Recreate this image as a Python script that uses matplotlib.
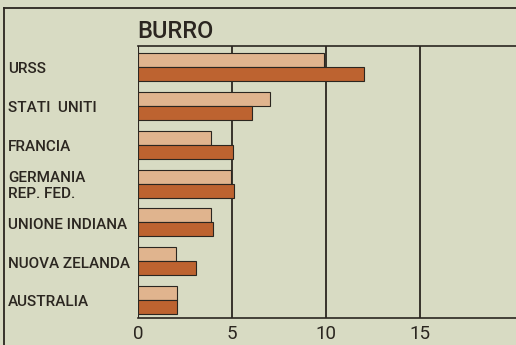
import matplotlib.pyplot as plt
from matplotlib.lines import Line2D
from matplotlib.transforms import blended_transform_factory
import numpy as np

countries = ["URSS", "STATI  UNITI", "FRANCIA", "GERMANIA\nREP. FED.",
             "UNIONE INDIANA", "NUOVA ZELANDA", "AUSTRALIA"]
light_vals = [9.9, 7.0, 3.9, 4.95, 3.9, 2.0, 2.05]
dark_vals = [12.0, 6.05, 5.05, 5.1, 4.0, 3.1, 2.05]
ticks = [0, 5, 10, 15]

BG = "#d8dbc3"
LIGHT = "#e0b48e"
DARK = "#bd6330"
INK = "#2b2620"
FONT = ["Roboto", "DejaVu Sans"]

fig = plt.figure(figsize=(5.16, 3.45), dpi=100, facecolor=BG)
W, H = 516, 345
ax = fig.add_axes([138 / W, 1 - 318 / H, 1 - 138 / W, (318 - 46) / H])
ax.set_facecolor(BG)

y = np.arange(len(countries))
h = 0.36
ax.barh(y - h / 2 + 0.04, light_vals, height=h, color=LIGHT,
        edgecolor=INK, linewidth=0.8, zorder=3)
ax.barh(y + h / 2 + 0.04, dark_vals, height=h, color=DARK,
        edgecolor=INK, linewidth=0.8, zorder=3)

ax.set_xlim(0, (W - 138) / 18.8)
ax.set_ylim(len(countries) - 0.5, -0.5)
for t in ticks[1:]:
    ax.axvline(t, color=INK, lw=1.3, zorder=1)

ax.set_xticks(ticks)
ax.set_xticklabels([str(t) for t in ticks], fontsize=13.5, color=INK, family=FONT)
ax.tick_params(axis="x", length=0, pad=5)
ax.set_yticks([])
for side in ["right", "left"]:
    ax.spines[side].set_visible(False)
for side in ["top", "bottom"]:
    ax.spines[side].set_color(INK)
    ax.spines[side].set_linewidth(1.2)
ax.axvline(0, color=INK, lw=0.8, zorder=1)

# country names sit in the left margin, aligned with each group
tr = blended_transform_factory(fig.transFigure, ax.transData)
for i, name in enumerate(countries):
    ax.text(8 / W, i + 0.1, name, transform=tr, ha="left", va="center",
            fontsize=11, color=INK, linespacing=1.15, family=FONT,
            fontweight="medium")

fig.text(137 / W, 1 - 31 / H, "BURRO", ha="left", va="center",
         fontsize=17, color=INK, fontweight="medium", family=FONT)

# outer frame
fig.add_artist(Line2D([4 / W, 1], [1 - 8 / H, 1 - 8 / H],
                      transform=fig.transFigure, color=INK, lw=1.3))
fig.add_artist(Line2D([4 / W, 4 / W], [0, 1 - 8 / H],
                      transform=fig.transFigure, color=INK, lw=1.3))

fig.savefig("out.png", dpi=100, facecolor=BG)
